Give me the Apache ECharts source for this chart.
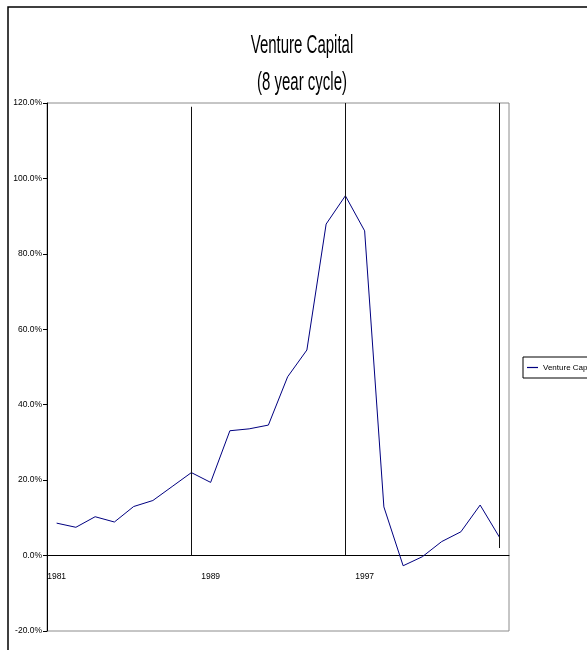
<!DOCTYPE html>
<html>
<head>
<meta charset="utf-8">
<script src="https://cdn.jsdelivr.net/npm/echarts@6/dist/echarts.min.js"></script>
<style>
  html, body { margin: 0; padding: 0; background: #fff; }
  #chart { width: 587px; height: 650px; }
</style>
</head>
<body>
<div id="chart"></div>
<script>
// Annual returns, venture capital index (percent)
const years = ['1981','1982','1983','1984','1985','1986','1987','1988','1989','1990','1991','1992',
               '1993','1994','1995','1996','1997','1998','1999','2000','2001','2002','2003','2004'];
const ventureReturns = [8.6, 7.5, 10.3, 8.9, 13.0, 14.6, 18.3, 22.0, 19.4, 33.1, 33.6, 34.6,
                        47.4, 54.5, 87.9, 95.4, 86.1, 12.9, -2.7, -0.3, 3.7, 6.3, 13.4, 4.9];

// Cycle markers every eight years (vertical rules)
const cycleYears = ['1988', '1996', '2004'];
const cycleTop = [119, 120, 120];
const cycleBottom = [0, 0, 2];

// Y axis range
const yMin = -20, yMax = 120, yStep = 20;

const font = '"Liberation Sans", Arial, sans-serif';

// Plot box
const gridTop = 103, gridBottom = 19, chartH = 650;
const plotH = chartH - gridTop - gridBottom;
// Category axis sits on the zero line: shift it up from the plot's bottom edge
const zeroOffset = -((0 - yMin) / (yMax - yMin)) * plotH;

const cycleLines = cycleYears.map((y, i) => [
  { coord: [y, cycleBottom[i]] },
  { coord: [y, cycleTop[i]] }
]);

const chart = echarts.init(document.getElementById('chart'), null, { renderer: 'canvas' });

chart.setOption({
  animation: false,
  backgroundColor: '#ffffff',
  graphic: [
    {
      type: 'rect',
      shape: { x: 8, y: 7, width: 620, height: 680 },
      style: { fill: null, stroke: '#000', lineWidth: 1.5 },
      silent: true
    },
    {
      type: 'text',
      x: 302, y: 46, scaleX: 0.6,
      style: { text: 'Venture Capital', font: '25px ' + font, fill: '#000',
               textAlign: 'center', textVerticalAlign: 'middle' },
      silent: true
    },
    {
      type: 'text',
      x: 302, y: 83, scaleX: 0.6,
      style: { text: '(8 year cycle)', font: '25px ' + font, fill: '#000',
               textAlign: 'center', textVerticalAlign: 'middle' },
      silent: true
    }
  ],
  legend: {
    left: 523, top: 357,
    orient: 'vertical',
    padding: [5, 4, 5, 4],
    icon: 'rect',
    itemWidth: 11, itemHeight: 1.2,
    itemStyle: { color: '#000080' },
    borderColor: '#000', borderWidth: 1,
    backgroundColor: '#fff',
    textStyle: { fontFamily: font, fontSize: 8, color: '#000', lineHeight: 11 },
    data: ['Venture Capital']
  },
  grid: {
    left: 47, top: gridTop, right: 78, bottom: gridBottom,
    show: true, borderColor: '#8c8c8c', borderWidth: 1
  },
  xAxis: {
    type: 'category',
    data: years,
    boundaryGap: true,
    offset: zeroOffset,
    axisLine: { onZero: false, lineStyle: { color: '#000', width: 1 } },
    axisTick: { show: false },
    axisLabel: { interval: 7, margin: 17, fontFamily: font, fontSize: 8.5, color: '#000' },
    splitLine: { show: false }
  },
  yAxis: {
    type: 'value',
    min: yMin, max: yMax, interval: yStep,
    axisLine: { show: true, onZero: false, lineStyle: { color: '#000', width: 1 } },
    axisTick: { show: true, length: 4, lineStyle: { color: '#000' } },
    axisLabel: { margin: 5, fontFamily: font, fontSize: 8.5, color: '#000',
                 formatter: v => v.toFixed(1) + '%' },
    splitLine: { show: false }
  },
  series: [
    {
      name: 'Venture Capital',
      type: 'line',
      data: ventureReturns,
      symbol: 'none',
      lineStyle: { color: '#000080', width: 1 },
      itemStyle: { color: '#000080' },
      markLine: {
        silent: true,
        symbol: ['none', 'none'],
        label: { show: false },
        lineStyle: { color: '#111', width: 1, type: 'solid' },
        emphasis: { disabled: true },
        data: cycleLines
      }
    }
  ]
});
</script>
</body>
</html>
